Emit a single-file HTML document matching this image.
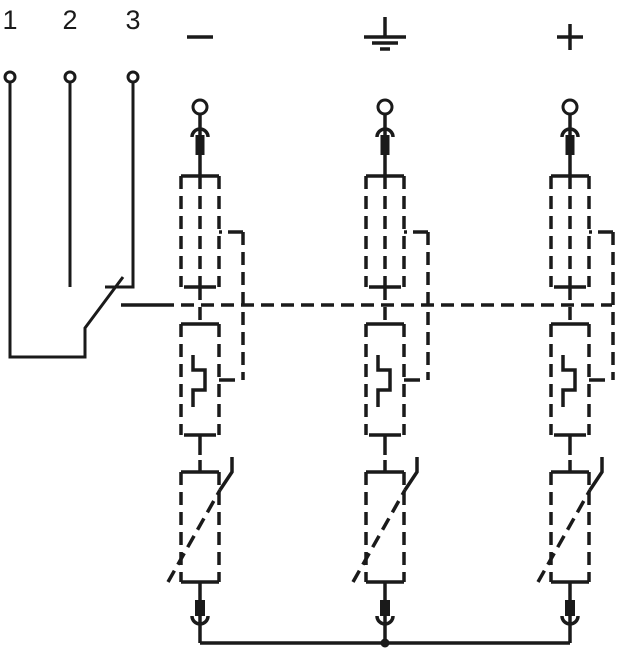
<!DOCTYPE html>
<html><head><meta charset="utf-8"><style>
html,body{margin:0;padding:0;background:#fff;}
svg{display:block;}
</style></head><body>
<svg width="617" height="650" viewBox="0 0 617 650" xmlns="http://www.w3.org/2000/svg">
<defs>
<g id="col" fill="none" stroke="#1a1a1a" stroke-width="3.5">
  <circle cx="0" cy="107" r="7" stroke-width="3"/>
  <line x1="0" y1="114" x2="0" y2="135"/>
  <path d="M-8,137 A8,8 0 0 1 8,137"/>
  <rect x="-4.5" y="135" width="9" height="20" fill="#1a1a1a" stroke="none"/>
  <line x1="0" y1="155" x2="0" y2="176"/>
  <line x1="-19" y1="176" x2="19" y2="176"/>
  <line x1="-19" y1="176" x2="-19" y2="287" stroke-dasharray="13,7"/>
  <line x1="19" y1="176" x2="19" y2="287" stroke-dasharray="13,7"/>
  <line x1="-16" y1="287" x2="16" y2="287"/>
  <line x1="0" y1="176" x2="0" y2="287" stroke-dasharray="13,7"/>
  <line x1="0" y1="287" x2="0" y2="324" stroke-dasharray="13,7"/>
  <line x1="19" y1="232" x2="22" y2="232"/>
  <line x1="28" y1="232" x2="43" y2="232"/>
  <line x1="43" y1="232" x2="43" y2="380" stroke-dasharray="13,7"/>
  <line x1="19" y1="380" x2="35" y2="380"/>
  <line x1="-19" y1="324" x2="19" y2="324"/>
  <line x1="-19" y1="324" x2="-19" y2="435" stroke-dasharray="13,7"/>
  <line x1="19" y1="324" x2="19" y2="435" stroke-dasharray="13,7"/>
  <line x1="-16" y1="435" x2="16" y2="435"/>
  <polyline points="-7,355 -7,370 5,370 5,390 -7,390 -7,407"/>
  <line x1="0" y1="435" x2="0" y2="455"/>
  <line x1="0" y1="460" x2="0" y2="472"/>
  <line x1="-19" y1="472" x2="19" y2="472"/>
  <line x1="-19" y1="472" x2="-19" y2="582" stroke-dasharray="13,7"/>
  <line x1="19" y1="472" x2="19" y2="582" stroke-dasharray="13,7"/>
  <line x1="-19" y1="582" x2="19" y2="582"/>
  <line x1="-32" y1="582" x2="20" y2="490" stroke-dasharray="13,7"/>
  <polyline points="20,490 32,472 32,457"/>
  <line x1="0" y1="582" x2="0" y2="600"/>
  <rect x="-5" y="600" width="10" height="16" fill="#1a1a1a" stroke="none"/>
  <path d="M-8,616 A8,8 0 0 0 8,616"/>
  <line x1="0" y1="616" x2="0" y2="643"/>
</g>
</defs>
<g font-family="Liberation Sans, sans-serif" font-size="27" fill="#1a1a1a" text-anchor="middle">
  <text x="10" y="29">1</text>
  <text x="70" y="29">2</text>
  <text x="133" y="29">3</text>
</g>
<g fill="none" stroke="#1a1a1a" stroke-width="3.5">
  <line x1="187" y1="37" x2="213" y2="37"/>
  <line x1="385" y1="17" x2="385" y2="37"/>
  <line x1="364" y1="37" x2="406" y2="37"/>
  <line x1="372" y1="43" x2="398" y2="43"/>
  <line x1="380" y1="49" x2="390" y2="49"/>
  <line x1="557" y1="37" x2="583" y2="37"/>
  <line x1="570" y1="24" x2="570" y2="50"/>
  <circle cx="10" cy="77" r="5" stroke-width="3"/>
  <circle cx="70" cy="77" r="5" stroke-width="3"/>
  <circle cx="133" cy="77" r="5" stroke-width="3"/>
  <polyline points="10,82 10,357 85,357 85,328 123,277" stroke-width="3"/>
  <line x1="70" y1="82" x2="70" y2="287" stroke-width="3"/>
  <polyline points="133,82 133,287 105,287" stroke-width="3"/>
  <line x1="121" y1="305" x2="174" y2="305"/>
  <line x1="174" y1="305" x2="612" y2="305" stroke-dasharray="13,7" stroke-dashoffset="-7"/>
  <line x1="200" y1="643" x2="570" y2="643"/>
</g>
<use href="#col" x="200"/>
<use href="#col" x="385"/>
<use href="#col" x="570"/>
<circle cx="385" cy="643" r="4.5" fill="#1a1a1a"/>
</svg>
</body></html>
